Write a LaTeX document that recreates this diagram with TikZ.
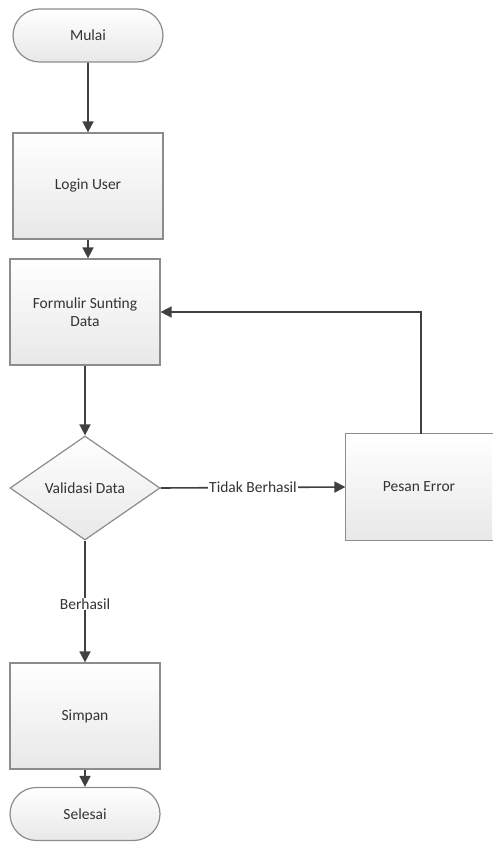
\documentclass[tikz,border=0pt]{standalone}
\usepackage{fontspec}
\setmainfont{Carlito}
\usetikzlibrary{arrows.meta,shapes.geometric,shapes.misc}
\definecolor{edgegray}{HTML}{8C8C8C}
\definecolor{linegray}{HTML}{404040}
\definecolor{fillbot}{HTML}{E8E8E8}
\tikzset{
  base/.style={draw=edgegray, line width=1.2pt, top color=white, bottom color=fillbot,
    font=\fontsize{15.5}{18}\selectfont, text=black!80, align=center, inner sep=0pt},
  procbox/.style={base, rectangle, minimum width=150pt, minimum height=106pt},
  terminal/.style={base, rounded rectangle, minimum width=150pt, minimum height=53pt},
  decision/.style={base, diamond, aspect=1.44, minimum width=150pt, minimum height=104pt},
  flow/.style={draw=linegray, line width=1.6pt, -{Triangle[length=11pt,width=11pt]}},
  lbl/.style={fill=white, inner sep=1pt, font=\fontsize{15.5}{18}\selectfont, text=black!80}
}
\begin{document}
\begin{tikzpicture}[x=1pt,y=-1pt]
\useasboundingbox (0,0) rectangle (492,842);

\node[terminal] (mulai) at (88,35.5) {Mulai};
\node[procbox] (login) at (88,186) {Login User};
\node[procbox] (form) at (85,312) {Formulir Sunting\\Data};
\node[decision] (valid) at (85,488) {Validasi Data};
% the error box is cut off by the right edge of the page: only three sides show
\node[procbox, draw=none, minimum width=146pt] (pesan) at (419,487) {Pesan Error};
\draw[edgegray, line width=1.2pt]
  ([xshift=1pt]pesan.north east) -- (pesan.north west) -- (pesan.south west) -- ([xshift=1pt]pesan.south east);
\node[procbox] (simpan) at (85,716) {Simpan};
\node[terminal] (selesai) at (85,814) {Selesai};

\coordinate (loopStart) at (421,434);
\coordinate (loopTop) at (421,312);

\draw[flow] (mulai) -- (login);
\draw[flow] (login.south) -- (login.south |- form.north);
\draw[flow] (form) -- (valid);
\draw[flow] (valid.east) -- node[lbl] {Tidak Berhasil} (pesan.west);
\draw[flow] (loopStart) -- (loopTop) -- (form.east);
\draw[flow] (valid.south) -- node[lbl, pos=0.52] {Berhasil} (simpan.north);
\draw[flow] (simpan) -- (selesai);
\end{tikzpicture}
\end{document}
